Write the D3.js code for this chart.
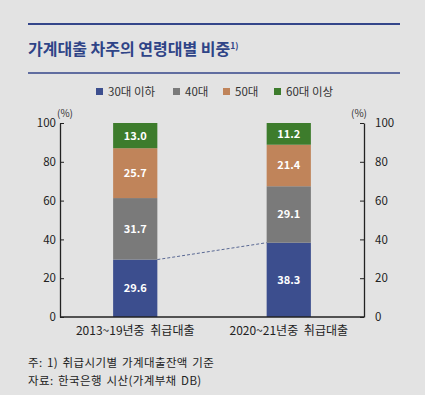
<!DOCTYPE html>
<html>
<head>
<meta charset="utf-8">
<script src="https://cdn.jsdelivr.net/npm/d3@7"></script>
<style>
body { margin:0; background:#e3e3e3; }
svg { display:block; font-family:"Noto Sans CJK KR","Noto Sans",sans-serif; }
</style>
</head>
<body>
<svg width="425" height="395"></svg>
<script>
let categories = ["2013~19년중 취급대출", "2020~21년중 취급대출"]
let series = ["30대 이하", "40대", "50대", "60대 이상"]
let colors = ["#3c4e8e", "#7a7a7a", "#c0845a", "#3d7c2c"]
let under30s = [29.6, 38.3]
let forties = [31.7, 29.1]
let fifties = [25.7, 21.4]
let sixties = [13.0, 11.2]
let yticks = [0, 20, 40, 60, 80, 100]

let svg = d3.select("svg")
let W = 425, H = 395
svg.append("rect").attr("width", W).attr("height", H).attr("fill", "#e3e3e3")

// header rules and title
svg.append("line").attr("x1", 28).attr("x2", 400).attr("y1", 24).attr("y2", 24)
  .attr("stroke", "#34468a").attr("stroke-width", 2.2)
svg.append("line").attr("x1", 28).attr("x2", 400).attr("y1", 73).attr("y2", 73)
  .attr("stroke", "#34468a").attr("stroke-width", 1.4)
let title = svg.append("text").attr("x", 28).attr("y", 55)
  .attr("fill", "#2f4487").attr("font-size", 16).attr("font-weight", "bold")
title.append("tspan").text("가계대출 차주의 연령대별 비중")
title.append("tspan").text("1)").attr("font-size", 8.5).attr("dy", -6)

// legend
let legend = svg.append("g")
let lx = [96, 173, 223, 274]
series.forEach((s, i) => {
  legend.append("rect").attr("x", lx[i]).attr("y", 88).attr("width", 7).attr("height", 7).attr("fill", colors[i])
  legend.append("text").attr("x", lx[i] + 12).attr("y", 96).attr("font-size", 11.5).attr("fill", "#333").text(s)
})

let x = d3.scaleBand().domain(categories).range([60, 364]).paddingInner(0.712).paddingOuter(0.346)
let y = d3.scaleLinear().domain([0, 100]).range([317, 123])

let table = categories.map((c, i) => ({cat: c, vals: [under30s[i], forties[i], fifties[i], sixties[i]]}))
let stack = d3.stack().keys([0, 1, 2, 3]).value((d, k) => d.vals[k])(table)

stack.forEach((layer, k) => {
  layer.forEach(d => {
    svg.append("rect")
      .attr("x", x(d.data.cat)).attr("width", x.bandwidth())
      .attr("y", y(d[1])).attr("height", y(d[0]) - y(d[1]))
      .attr("fill", colors[k])
    svg.append("text")
      .attr("x", x(d.data.cat) + x.bandwidth() / 2)
      .attr("y", (y(d[0]) + y(d[1])) / 2 + 4)
      .attr("text-anchor", "middle").attr("fill", "#fff")
      .attr("font-size", 11).attr("font-weight", "bold")
      .text(d.data.vals[k].toFixed(1))
  })
})

// dashed connector between the 30s tops
svg.append("line")
  .attr("x1", x(categories[0]) + x.bandwidth()).attr("y1", y(under30s[0]))
  .attr("x2", x(categories[1])).attr("y2", y(under30s[1]))
  .attr("stroke", "#4a5a8a").attr("stroke-width", 0.9).attr("stroke-dasharray", "3,2")

// axes
let leftAxis = d3.axisLeft(y).tickValues(yticks).tickSizeInner(-4).tickSizeOuter(0).tickPadding(4)
let rightAxis = d3.axisRight(y).tickValues(yticks).tickSizeInner(-4).tickSizeOuter(0).tickPadding(11)
let gl = svg.append("g").attr("transform", "translate(60,0)").call(leftAxis)
let gr = svg.append("g").attr("transform", "translate(364,0)").call(rightAxis)
;[gl, gr].forEach(g => {
  g.select(".domain").attr("stroke", "#222").attr("stroke-width", 1.3)
  g.selectAll(".tick line").attr("stroke", "#222")
  g.selectAll(".tick text").attr("font-size", 11.5).attr("fill", "#222")
    .attr("font-family", "'Noto Sans CJK KR','Noto Sans',sans-serif")
})
svg.append("line").attr("x1", 60).attr("x2", 364).attr("y1", 317).attr("y2", 317)
  .attr("stroke", "#222").attr("stroke-width", 1.3)

svg.append("text").attr("x", 57).attr("y", 117).attr("font-size", 10).attr("fill", "#333").text("(%)")
svg.append("text").attr("x", 351).attr("y", 117).attr("font-size", 10).attr("fill", "#333").text("(%)")

categories.forEach(c => {
  svg.append("text").attr("x", x(c) + x.bandwidth() / 2).attr("y", 335)
    .attr("text-anchor", "middle").attr("font-size", 12).attr("fill", "#222")
    .attr("word-spacing", 3).text(c)
})

svg.append("text").attr("x", 28).attr("y", 367).attr("font-size", 11.5).attr("fill", "#222")
  .attr("letter-spacing", 0.4).attr("word-spacing", 1.5).text("주: 1) 취급시기별 가계대출잔액 기준")
svg.append("text").attr("x", 28).attr("y", 385).attr("font-size", 11.5).attr("fill", "#222")
  .attr("letter-spacing", 0.4).attr("word-spacing", 1.5).text("자료: 한국은행 시산(가계부채 DB)")
</script>
</body>
</html>
